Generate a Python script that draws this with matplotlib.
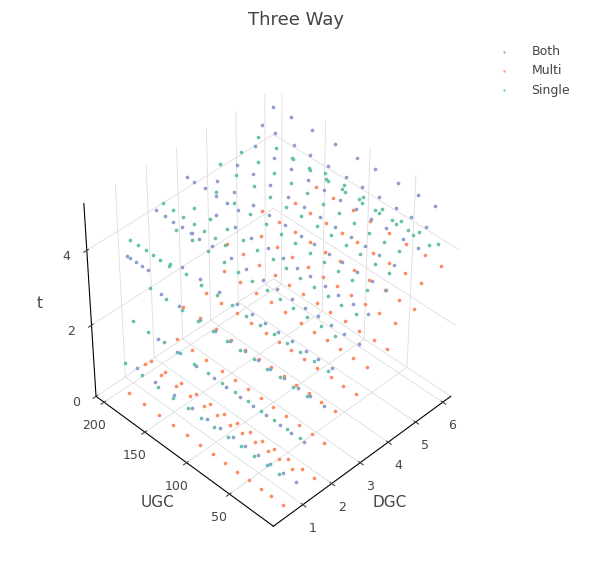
import numpy as np
import matplotlib.pyplot as plt

# rows of points: (DGC, t, [UGC values])
both_rows = [
    (1.0, 0.5, [8, 22, 37, 51, 66, 80, 95, 110, 128, 150, 172, 195]),
    (1.5, 1.2, [15, 30, 42, 58, 73, 88, 104, 119, 140, 163, 185]),
    (2.0, 2.0, [10, 26, 39, 55, 70, 84, 99, 117, 134, 152, 176, 198]),
    (2.5, 2.6, [18, 33, 47, 62, 78, 93, 108, 125, 146, 168, 190]),
    (3.0, 3.2, [5, 21, 36, 50, 64, 79, 96, 112, 131, 149, 171, 194]),
    (3.5, 3.6, [12, 28, 44, 59, 75, 90, 106, 123, 142, 161, 183]),
    (4.0, 4.0, [9, 24, 40, 56, 71, 87, 102, 120, 138, 157, 179, 199]),
    (4.5, 4.3, [16, 32, 48, 63, 81, 97, 115, 133, 154, 174, 192]),
    (5.0, 4.6, [7, 23, 41, 57, 74, 91, 109, 127, 147, 166, 188]),
    (5.5, 4.8, [14, 30, 46, 65, 83, 101, 121, 141, 160, 181, 197]),
    (6.0, 5.0, [20, 38, 60, 85, 105, 130, 155, 180, 200]),
    (2.0, 4.2, [150, 160, 170, 180, 190, 200]),
    (3.0, 4.6, [140, 152, 165, 178, 190, 199]),
    (1.0, 3.5, [175, 182, 190, 196, 200]),
]
multi_rows = [
    (0.5, 0.2, [6, 19, 31, 45, 58, 72, 86, 101, 117, 134, 150, 168, 187]),
    (1.0, 0.8, [12, 27, 40, 54, 69, 83, 98, 113, 130, 147, 165, 184]),
    (1.5, 0.4, [4, 17, 33, 49, 63, 77, 92, 107, 124, 141, 159, 178, 196]),
    (2.0, 1.0, [9, 23, 38, 52, 67, 81, 96, 111, 127, 145, 162, 181]),
    (2.5, 1.5, [14, 29, 43, 57, 71, 86, 100, 116, 133, 151, 170, 190]),
    (3.0, 1.8, [7, 21, 35, 50, 65, 80, 94, 109, 126, 143, 161, 179]),
    (3.5, 2.2, [11, 26, 41, 56, 70, 85, 103, 120, 137, 156, 175]),
    (4.0, 2.5, [5, 20, 36, 52, 68, 83, 99, 115, 132, 150, 169, 188]),
    (4.5, 2.8, [13, 30, 46, 61, 77, 93, 110, 128, 146, 165]),
    (5.0, 3.0, [8, 24, 40, 57, 74, 90, 107, 124, 142, 160, 180]),
    (5.5, 3.3, [16, 34, 51, 69, 87, 104, 122, 140, 158]),
    (6.0, 3.6, [10, 28, 48, 67, 88, 108, 130, 150]),
]
single_rows = [
    (0.5, 1.0, [10, 24, 38, 53, 68, 84, 99, 115, 132, 150, 170, 190]),
    (1.0, 1.8, [4, 18, 33, 47, 62, 77, 92, 108, 124, 141, 160, 178, 197]),
    (1.5, 2.5, [13, 28, 43, 57, 72, 88, 103, 119, 136, 155, 174, 193]),
    (2.0, 3.0, [7, 22, 37, 51, 66, 82, 97, 114, 131, 149, 167, 186]),
    (2.5, 3.5, [16, 31, 46, 61, 76, 91, 107, 123, 140, 158, 177, 196]),
    (3.0, 3.9, [9, 25, 40, 55, 70, 86, 101, 118, 135, 153, 172, 191]),
    (3.5, 4.2, [14, 30, 45, 60, 76, 92, 108, 125, 143, 162, 182]),
    (4.0, 4.5, [6, 21, 37, 53, 69, 85, 102, 119, 137, 156, 176, 195]),
    (4.5, 4.7, [12, 28, 44, 60, 77, 94, 112, 130, 149, 168, 187]),
    (5.0, 4.9, [18, 35, 53, 71, 89, 107, 126, 145, 164, 184]),
    (5.5, 4.4, [10, 27, 45, 64, 83, 102, 121, 141, 161]),
    (6.0, 4.1, [15, 35, 55, 76, 97, 118, 140]),
    (1.0, 4.0, [150, 160, 168, 177, 186, 195]),
    (2.0, 4.5, [120, 132, 144, 156, 168, 180, 192]),
]

series_names = ['Both', 'Multi', 'Single']
series_colors = ['#8da0cb', '#fc8d62', '#66c2a5']


def unpack(rows):
    d, u, t = [], [], []
    for dgc, tv, ugcs in rows:
        for g in ugcs:
            d.append(dgc)
            u.append(g)
            t.append(tv)
    return np.array(d), np.array(u), np.array(t)


fig = plt.figure(figsize=(5.93, 5.63), dpi=100)
ax = fig.add_axes([0.02, 0.02, 0.86, 0.86], projection='3d')

for name, rows, col in zip(series_names, [both_rows, multi_rows, single_rows], series_colors):
    d, u, t = unpack(rows)
    ax.scatter(d, u, t, s=7, c=col, depthshade=False, label=name, linewidths=0)

ax.view_init(elev=42, azim=-135)
ax.set_box_aspect((1, 1, 1.0), zoom=0.9)
ax.set_xlim(0, 6.3)
ax.set_ylim(0, 210)
ax.set_zlim(0, 5.2)
ax.set_xticks([1, 2, 3, 4, 5, 6])
ax.set_yticks([50, 100, 150, 200])
ax.set_zticks([0, 2, 4])
ax.set_xlabel('DGC', fontsize=11, color='#444444')
ax.set_ylabel('UGC', fontsize=11, color='#444444')
ax.set_zlabel('t', fontsize=11, color='#444444')
ax.tick_params(labelsize=9, colors='#444444', pad=2)
for axis in (ax.xaxis, ax.yaxis, ax.zaxis):
    axis.set_pane_color((1, 1, 1, 0))
    axis._axinfo['grid']['color'] = '#dddddd'
    axis._axinfo['grid']['linewidth'] = 0.6

fig.suptitle('Three Way', y=0.98, fontsize=13, color='#444444')
leg = fig.legend(loc='upper right', bbox_to_anchor=(0.98, 0.94), frameon=False,
                 fontsize=9, markerscale=0.6, handletextpad=1.2)
for txt in leg.get_texts():
    txt.set_color('#444444')

fig.savefig('out.png', dpi=100)
